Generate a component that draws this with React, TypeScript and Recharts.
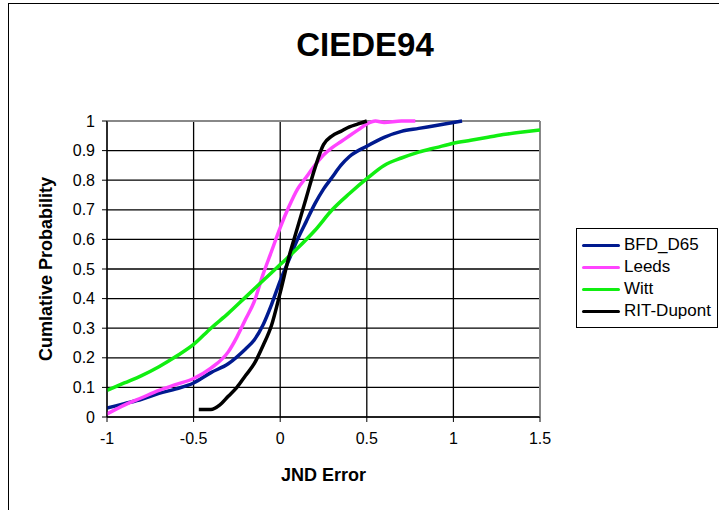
import React from "react";
import {
  LineChart,
  Line,
  XAxis,
  YAxis,
  CartesianGrid,
  Legend,
  ReferenceLine,
} from "recharts";

// x = JND error, y = cumulative probability
const bfdX = [-1, -0.9, -0.8, -0.7, -0.6, -0.5, -0.4, -0.3, -0.2, -0.15, -0.1, -0.05, 0, 0.05, 0.1, 0.15, 0.2, 0.25, 0.3, 0.35, 0.4, 0.5, 0.6, 0.7, 0.8, 0.9, 1.0, 1.05];
const bfdY = [0.03, 0.045, 0.06, 0.08, 0.095, 0.115, 0.15, 0.18, 0.23, 0.26, 0.31, 0.38, 0.46, 0.53, 0.6, 0.66, 0.72, 0.77, 0.81, 0.85, 0.88, 0.915, 0.945, 0.965, 0.975, 0.985, 0.995, 1.0];

const leedsX = [-1, -0.9, -0.8, -0.7, -0.6, -0.5, -0.4, -0.3, -0.25, -0.2, -0.15, -0.1, -0.05, 0, 0.05, 0.1, 0.15, 0.2, 0.25, 0.3, 0.35, 0.4, 0.45, 0.5, 0.55, 0.6, 0.7, 0.78];
const leedsY = [0.01, 0.04, 0.065, 0.09, 0.11, 0.13, 0.165, 0.22, 0.27, 0.33, 0.39, 0.48, 0.56, 0.64, 0.71, 0.77, 0.81, 0.85, 0.885, 0.91, 0.93, 0.95, 0.97, 0.99, 1.0, 0.995, 1.0, 1.0];

const wittX = [-1, -0.9, -0.8, -0.7, -0.6, -0.5, -0.4, -0.3, -0.2, -0.1, 0, 0.1, 0.2, 0.3, 0.4, 0.5, 0.6, 0.7, 0.8, 0.9, 1.0, 1.1, 1.2, 1.3, 1.4, 1.5];
const wittY = [0.09, 0.115, 0.14, 0.17, 0.205, 0.245, 0.3, 0.35, 0.405, 0.46, 0.515, 0.57, 0.63, 0.7, 0.755, 0.805, 0.85, 0.875, 0.895, 0.91, 0.925, 0.935, 0.945, 0.955, 0.963, 0.97];

const ritX = [-0.47, -0.4, -0.35, -0.3, -0.25, -0.2, -0.15, -0.1, -0.05, 0, 0.05, 0.1, 0.15, 0.2, 0.25, 0.3, 0.35, 0.4, 0.45, 0.5];
const ritY = [0.025, 0.025, 0.04, 0.07, 0.1, 0.14, 0.18, 0.24, 0.31, 0.42, 0.54, 0.64, 0.74, 0.84, 0.92, 0.95, 0.965, 0.98, 0.99, 1.0];

const xTicks = [-1, -0.5, 0, 0.5, 1, 1.5];
const yTicks = [0, 0.1, 0.2, 0.3, 0.4, 0.5, 0.6, 0.7, 0.8, 0.9, 1];

const zip = (xs: number[], ys: number[]) => xs.map((x, i) => ({ x, y: ys[i] }));

const series = [
  { name: "BFD_D65", color: "#001a8f", data: zip(bfdX, bfdY) },
  { name: "Leeds", color: "#ff44ff", data: zip(leedsX, leedsY) },
  { name: "Witt", color: "#11ee11", data: zip(wittX, wittY) },
  { name: "RIT-Dupont", color: "#000000", data: zip(ritX, ritY) },
];

const FONT = '"Liberation Sans", Arial, sans-serif';

function LegendBox() {
  return (
    <div
      style={{
        border: "1px solid #000",
        background: "#fff",
        padding: "5px 0 5px 5px",
        fontFamily: FONT,
        fontSize: 17,
      }}
    >
      {series.map((s) => (
        <div key={s.name} style={{ display: "flex", alignItems: "center", height: 22 }}>
          <span
            style={{
              display: "inline-block",
              width: 38,
              height: 3,
              background: s.color,
              borderRadius: 2,
              marginRight: 4,
            }}
          />
          <span>{s.name}</span>
        </div>
      ))}
    </div>
  );
}

export default function App() {
  return (
    <div
      style={{
        position: "absolute",
        left: 8,
        top: 3,
        width: 710,
        height: 506,
        borderLeft: "1px solid #000",
        borderTop: "1px solid #000",
        fontFamily: FONT,
      }}
    >
      <div
        style={{
          position: "absolute",
          left: 0,
          top: 22,
          width: 712,
          textAlign: "center",
          fontSize: 33,
          fontWeight: "bold",
          zIndex: 2,
        }}
      >
        CIEDE94
      </div>
      <LineChart
        width={710}
        height={506}
        margin={{ top: 117, right: 179, bottom: 33, left: 38 }}
      >
        <CartesianGrid stroke="#000" strokeWidth={1.3} />
        <XAxis
          type="number"
          dataKey="x"
          domain={[-1, 1.5]}
          ticks={xTicks}
          allowDataOverflow
          height={60}
          stroke="#000"
          tickSize={5}
          tickMargin={11}
          tick={{ fill: "#000", fontSize: 16, fontFamily: FONT }}
          label={{
            content: (p: any) => (
              <text
                x={p.viewBox.x + p.viewBox.width / 2}
                y={p.viewBox.y + 58}
                textAnchor="middle"
                dominantBaseline="central"
                fontSize={18}
                fontWeight="bold"
                fontFamily={FONT}
                fill="#000"
              >
                JND Error
              </text>
            ),
          }}
        />
        <YAxis
          type="number"
          dataKey="y"
          domain={[0, 1]}
          ticks={yTicks}
          width={60}
          stroke="#000"
          tickSize={5}
          tickMargin={7}
          tick={{ fill: "#000", fontSize: 16, fontFamily: FONT }}
          label={{
            content: (p: any) => {
              const cx = p.viewBox.x - 1;
              const cy = p.viewBox.y + p.viewBox.height / 2;
              return (
                <text
                  x={cx}
                  y={cy}
                  transform={`rotate(-90 ${cx} ${cy})`}
                  textAnchor="middle"
                  dominantBaseline="central"
                  fontSize={18}
                  fontWeight="bold"
                  fontFamily={FONT}
                  fill="#000"
                >
                  Cumlative Probability
                </text>
              );
            },
          }}
        />
        <ReferenceLine y={1} stroke="#888" strokeWidth={2} />
        <ReferenceLine x={1.5} stroke="#888" strokeWidth={2} />
        <Legend
          layout="horizontal"
          verticalAlign="middle"
          align="center"
          content={() => <LegendBox />}
          wrapperStyle={{ left: 567, top: 224, width: 142, height: "auto" }}
        />
        {series.map((s) => (
          <Line
            key={s.name}
            name={s.name}
            data={s.data}
            dataKey="y"
            type="monotone"
            stroke={s.color}
            strokeWidth={3.5}
            dot={false}
            activeDot={false}
            isAnimationActive={false}
          />
        ))}
      </LineChart>
    </div>
  );
}
